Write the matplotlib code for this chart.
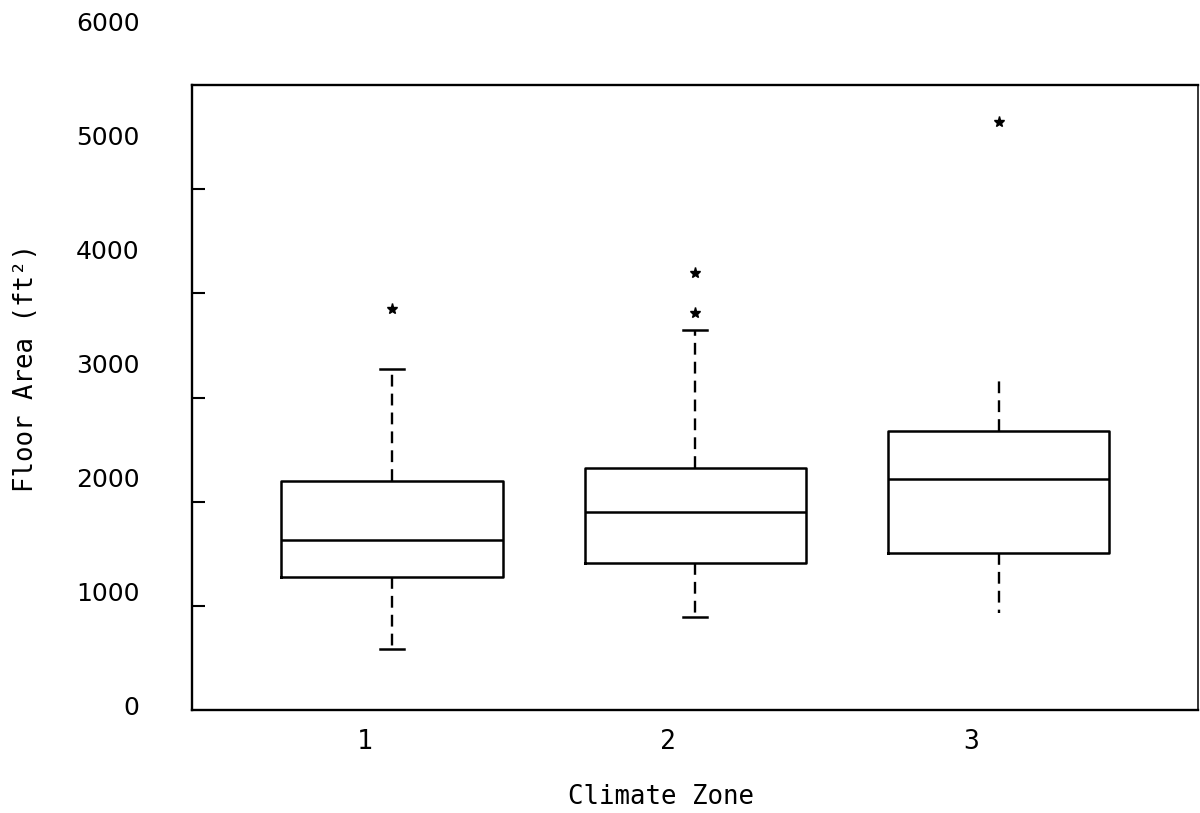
import matplotlib.pyplot as plt
import matplotlib.transforms as mtransforms

# Floor area summaries by climate zone
zones = ["1", "2", "3"]
whisker_low = [585, 893, 931]
quartile_1 = [1276, 1411, 1507]
medians = [1632, 1900, 2217]
quartile_3 = [2198, 2322, 2678]
whisker_high = [3273, 3647, 3186]
outliers = [[3848], [3810, 4194], [5643]]

ytick_values = [0, 1000, 2000, 3000, 4000, 5000, 6000]

stats = []
for i, name in enumerate(zones):
    stats.append({
        "label": name,
        "whislo": whisker_low[i],
        "q1": quartile_1[i],
        "med": medians[i],
        "q3": quartile_3[i],
        "whishi": whisker_high[i],
        "fliers": outliers[i],
    })

positions = [1, 2, 3]

fig = plt.figure(figsize=(12, 8.13), dpi=100)
ax = fig.add_axes([0.16, 0.1267, 0.838, 0.7687])

ax.bxp(
    stats,
    positions=positions,
    widths=0.73,
    capwidths=[0.08, 0.08, 0.0],
    boxprops=dict(color="black", linewidth=1.8),
    medianprops=dict(color="black", linewidth=1.8),
    whiskerprops=dict(color="black", linewidth=1.7, linestyle=(0, (5, 3))),
    capprops=dict(color="black", linewidth=1.8),
    flierprops=dict(marker="*", markersize=8, markerfacecolor="black",
                    markeredgecolor="black", linestyle="none"),
)

ax.set_xlim(0.341, 3.656)
ax.set_ylim(0, 6000)

for side in ["left", "right", "top", "bottom"]:
    ax.spines[side].set_color("black")
    ax.spines[side].set_linewidth(1.7)
ax.spines["right"].set_linewidth(1.1)

# inward tick marks on the left axis, labels drawn separately
ax.set_yticks(ytick_values[1:-1])
ax.tick_params(axis="y", direction="in", length=9, width=1.5,
               labelleft=False, color="black")

# category labels sit a little left of the boxes
label_shift = -0.09
ax.set_xticks([p + label_shift for p in positions], zones,
              family="DejaVu Sans Mono", fontsize=19)
ax.tick_params(axis="x", length=0, pad=14)

# value labels are spread slightly wider than the tick spacing
label_stretch = 1.094
label_offset = 19
trans = mtransforms.blended_transform_factory(ax.transAxes, ax.transData)
for v in ytick_values:
    ax.text(-0.052, label_offset + label_stretch * v, str(v),
            transform=trans, ha="right", va="center",
            fontsize=18, family="DejaVu Sans", clip_on=False)

ax.set_xlabel("Climate Zone", family="DejaVu Sans Mono", fontsize=18.5)
ax.xaxis.set_label_coords(0.466, -0.118)
ax.set_ylabel("Floor Area (ft²)", family="DejaVu Sans Mono", fontsize=18.5)
ax.yaxis.set_label_coords(-0.152, 0.547)

fig.savefig("out.png", dpi=100, facecolor="white")
